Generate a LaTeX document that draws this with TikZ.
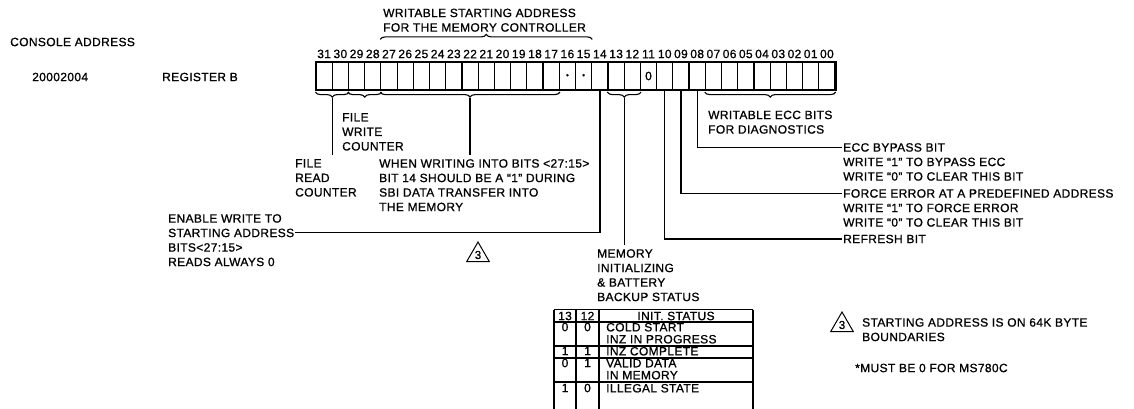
\documentclass[tikz,border=0pt]{standalone}
\usepackage{fontspec}
\setmainfont{Liberation Sans}[LetterSpace=3,FakeBold=0.9]
\usetikzlibrary{calc,positioning,decorations.pathreplacing,shapes.geometric}
\newcommand{\lblfont}{\fontsize{12}{14.5}\selectfont}
\newcommand{\tabfont}{\fontsize{12}{12}\selectfont}

\begin{document}
\begin{tikzpicture}[x=1pt,y=-1pt,
 lbl/.style={font=\lblfont,inner sep=0pt,align=left,anchor=north west},
 cell/.style={draw,line width=1.2pt,minimum width=16.22pt,minimum height=28pt,inner sep=0pt},
 bitno/.style={font=\lblfont,inner sep=0pt},
 brc/.style={decorate,decoration={brace,mirror,amplitude=5pt},line width=1.1pt},
 topbrc/.style={decorate,decoration={brace,amplitude=5pt},line width=1.1pt},
 wire/.style={line width=1.3pt},
 tcell/.style={font=\tabfont,inner sep=0pt,align=left},
 tri/.style={draw,regular polygon,regular polygon sides=3,minimum size=26pt,inner sep=0pt,line width=1pt,font=\fontsize{11.5}{11.5}\selectfont}
]
\useasboundingbox (0,0) rectangle (1134,409);

% left column
\node[lbl,anchor=west] (console) at (10,42) {CONSOLE ADDRESS};
\node[lbl,anchor=west] (addr) at (32,77) {20002004};
\node[lbl,anchor=west] (regb) at (162,77) {REGISTER B};

% register cells, bit numbers on top
\foreach \b [evaluate=\b as \cx using {316+(31.5-\b)*16.22}] in {31,30,...,0}{
  \node[cell] (cell-\b) at (\cx,76) {};
  \node[bitno,above=3pt of cell-\b] (num-\b) {\ifnum\b<10 0\fi\b};
}
\draw[line width=1.7pt] (cell-31.north west) rectangle (cell-0.south east);
\node[inner sep=0pt,font=\fontsize{8}{8}\selectfont] (dot-16) at (cell-16) {\textbullet};
\node[inner sep=0pt,font=\fontsize{8}{8}\selectfont] (dot-15) at (cell-15) {\textbullet};
\node[bitno] (zero-11) at (cell-11) {0};

% top brace
\draw[topbrc] ($(cell-27.north west)+(0,-22)$) -- ($(cell-15.north east)+(0,-22)$);
\node[lbl] (wsa) at (383,8.5) {WRITABLE STARTING ADDRESS\\FOR THE MEMORY CONTROLLER};

% bottom braces
\draw[brc] ($(cell-31.south west)+(0,1.5)$) -- ($(cell-30.south east)+(0,1.5)$);
\draw[brc] ($(cell-29.south west)+(0,1.5)$) -- ($(cell-28.south east)+(0,1.5)$);
\draw[brc] ($(cell-27.south west)+(0,1.5)$) -- ($(cell-17.south east)+(0,1.5)$);
\draw[brc] ($(cell-13.south west)+(0,1.5)$) -- ($(cell-12.south east)+(0,1.5)$);
\draw[brc] ($(cell-7.south west)+(0,1.5)$) -- ($(cell-0.south east)+(0,1.5)$);
\coordinate (readtip) at ($(cell-31.south west)!.5!(cell-30.south east)+(0,7)$);
\coordinate (addrtip) at ($(cell-27.south west)!.5!(cell-17.south east)+(0,7)$);
\coordinate (inittip) at ($(cell-13.south west)!.5!(cell-12.south east)+(0,7)$);

% field texts
\node[lbl] (fwc) at (342,113) {FILE\\WRITE\\COUNTER};
\node[lbl] (frc) at (295,159) {FILE\\READ\\COUNTER};
\node[lbl] (when) at (379,159) {WHEN WRITING INTO BITS <27:15>\\BIT 14 SHOULD BE A ``1'' DURING\\SBI DATA TRANSFER INTO\\THE MEMORY};
\node[lbl] (eccd) at (708,110.5) {WRITABLE ECC BITS\\FOR DIAGNOSTICS};
\node[lbl] (ecc) at (843,143) {ECC BYPASS BIT\\WRITE ``1'' TO BYPASS ECC\\WRITE ``0'' TO CLEAR THIS BIT};
\node[lbl] (force) at (843,189) {FORCE ERROR AT A PREDEFINED ADDRESS\\WRITE ``1'' TO FORCE ERROR\\WRITE ``0'' TO CLEAR THIS BIT};
\node[lbl,anchor=west] (refresh) at (843,239) {REFRESH BIT};
\node[lbl] (enable) at (168,214) {ENABLE WRITE TO\\STARTING ADDRESS\\BITS<27:15>\\READS ALWAYS 0};
\node[lbl] (init) at (597,249) {MEMORY\\INITIALIZING\\\& BATTERY\\BACKUP STATUS};
\node[tri] (tri-a) at (478,255) {3};
\coordinate (enableend) at ($(enable.north east)+(1,18.5)$);

% connectors
\draw[wire,shorten >=4pt] (readtip) -- (readtip |- frc.north);
\draw[wire,shorten >=4pt] (addrtip) -- (addrtip |- when.north);
\draw[wire] (cell-14.south) |- (enableend);
\draw[wire,shorten >=4pt] (inittip) -- (inittip |- init.north);
\draw[wire] (cell-10.south) |- ($(refresh.west)+(-1,0)$);
\draw[wire] (cell-9.south) |- ($(force.north west)+(-1,4.2)$);
\draw[wire] (cell-8.south) |- ($(ecc.north west)+(-1,4.2)$);

% init status table
\draw[wire] (554,309.5) -- (753,309.5);
\draw[line width=1.8pt] (554,322) -- (753,322);
\foreach \y in {346,358,382} \draw[wire] (554,\y) -- (753,\y);
\foreach \x in {554,576,599,753} \draw[wire] (\x,309.5) -- (\x,409);
\node[tcell] (h-13) at (565,316) {13};
\node[tcell] (h-12) at (587.5,316) {12};
\node[tcell] (h-st) at (676,316) {INIT. STATUS};
\foreach \a/\c/\t/\y [count=\r] in {0/0/{COLD START\\INZ IN PROGRESS}/327,1/1/{INZ COMPLETE}/351,0/1/{VALID DATA\\IN MEMORY}/363,1/0/{ILLEGAL STATE}/388}{
  \node[tcell] (r\r-13) at (565,\y) {\a};
  \node[tcell] (r\r-12) at (587.5,\y) {\c};
  \node[tcell,anchor=north west] (r\r-st) at (606,\y-4.2) {\t};
}

% notes
\node[tri] (tri-b) at (842,325) {3};
\node[lbl] (foot) at (862,318) {STARTING ADDRESS IS ON 64K BYTE\\BOUNDARIES};
\node[lbl,anchor=west] (must) at (855,368) {*MUST BE 0 FOR MS780C};
\end{tikzpicture}
\end{document}
